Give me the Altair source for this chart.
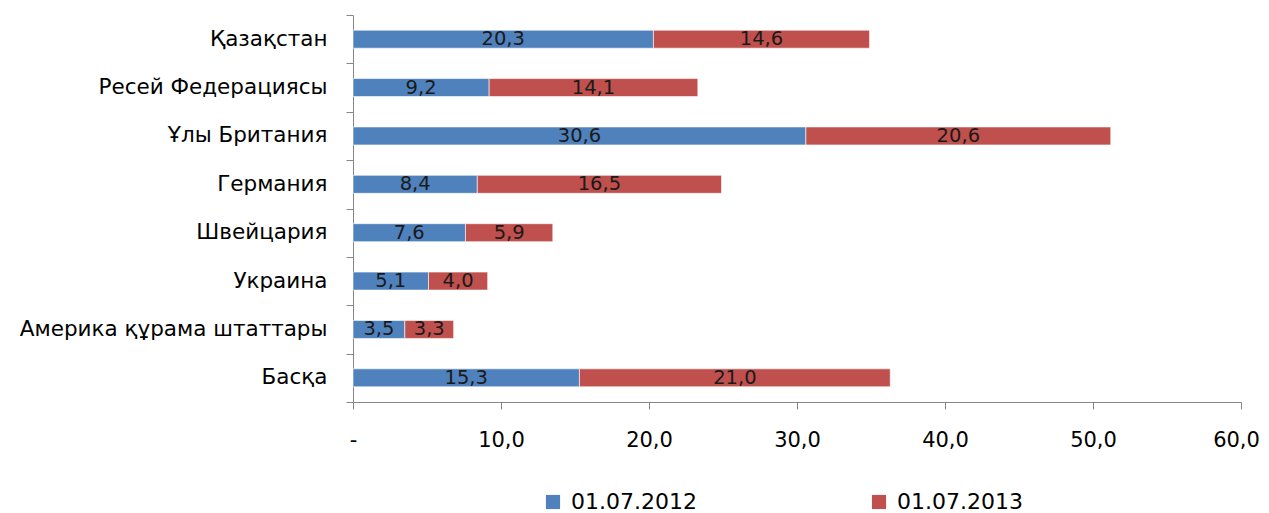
import altair as alt
import pandas as pd

categories = ["Қазақстан", "Ресей Федерациясы", "Ұлы Британия", "Германия",
              "Швейцария", "Украина", "Америка құрама штаттары", "Басқа"]
v2012 = [20.3, 9.2, 30.6, 8.4, 7.6, 5.1, 3.5, 15.3]
v2013 = [14.6, 14.1, 20.6, 16.5, 5.9, 4.0, 3.3, 21.0]
series = ["01.07.2012", "01.07.2013"]
colors = ["#4F81BD", "#C0504D"]

rows = []
for i, c in enumerate(categories):
    rows.append({"cat": c, "series": series[0], "ord": 0, "value": v2012[i]})
    rows.append({"cat": c, "series": series[1], "ord": 1, "value": v2013[i]})
df = pd.DataFrame(rows)

base = alt.Chart(df).transform_stack(
    stack="value", groupby=["cat"], as_=["x0", "x1"],
    sort=[alt.SortField("ord", order="ascending")]
).transform_calculate(
    mid="(datum.x0 + datum.x1) / 2",
    lbl="replace(format(datum.value, '.1f'), '.', ',')"
)

yenc = alt.Y("cat:N", sort=categories, title=None,
             scale=alt.Scale(paddingInner=0, paddingOuter=0),
             axis=alt.Axis(tickBand="extent", domainColor="#868686", tickColor="#868686",
                           tickSize=7, labelFont="DejaVu Sans", labelFontSize=21.5,
                           labelColor="#000000", labelPadding=19, labelLimit=400))

bars = base.mark_bar(height=18, stroke="#ffffff", strokeWidth=0.6).encode(
    y=yenc,
    x=alt.X("x0:Q", title=None,
            scale=alt.Scale(domain=[0, 60], nice=False),
            axis=alt.Axis(values=[0, 10, 20, 30, 40, 50, 60], grid=False, labelFlush=False,
                          domainColor="#868686", tickColor="#868686", tickSize=7,
                          labelFont="DejaVu Sans", labelFontSize=21, labelColor="#000000",
                          labelPadding=20,
                          labelOffset={"condition": {"test": "datum.value == 60", "value": -5}, "value": 0},
                          labelExpr="datum.value == 0 ? '-' : replace(format(datum.value, '.1f'), '.', ',')")),
    x2="x1:Q",
    color=alt.Color("series:N", scale=alt.Scale(domain=series, range=colors),
                    legend=alt.Legend(title=None, orient="none", legendX=189, legendY=476,
                                      direction="horizontal", columns=2, columnPadding=171,
                                      symbolType="square", symbolSize=200, symbolStrokeWidth=0,
                                      labelOffset=7,
                                      labelFont="DejaVu Sans", labelFontSize=22, labelColor="#000000",
                                      labelLimit=300))
)

texts = base.mark_text(font="DejaVu Sans", fontSize=19.5, color="#1a1a1a", baseline="middle").encode(
    y=alt.Y("cat:N", sort=categories),
    x=alt.X("mid:Q"),
    text="lbl:N"
)

chart = (bars + texts).properties(
    width=888, height=387,
    autosize=alt.AutoSizeParams(type="none"),
    padding={"left": 345, "top": 7, "right": 20, "bottom": 111}
).configure_view(stroke=None)

chart.save("out.html", embed_options={"renderer": "svg", "actions": False})
